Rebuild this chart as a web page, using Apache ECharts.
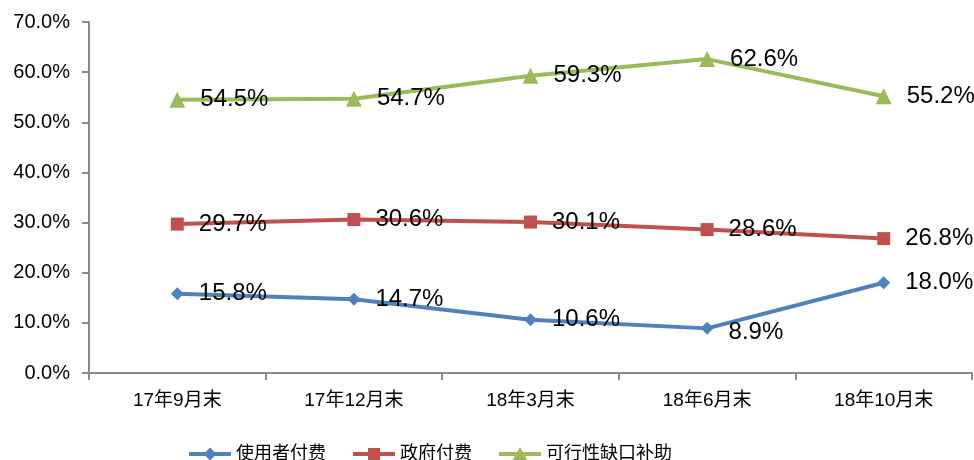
<!DOCTYPE html>
<html>
<head>
<meta charset="utf-8">
<style>
  html, body { margin: 0; padding: 0; background: #ffffff; }
  #chart { width: 974px; height: 460px; }
</style>
<script src="https://cdn.jsdelivr.net/npm/echarts@6/dist/echarts.min.js"></script>
</head>
<body>
<div id="chart"></div>
<script>
// Period-end categories
const periods = ['17年9月末', '17年12月末', '18年3月末', '18年6月末', '18年10月末'];

// Share of projects by payment mechanism (%)
const userPays = [15.8, 14.7, 10.6, 8.9, 18.0];
const governmentPays = [29.7, 30.6, 30.1, 28.6, 26.8];
const viabilityGap = [54.5, 54.7, 59.3, 62.6, 55.2];

// Series names
const seriesNames = ['使用者付费', '政府付费', '可行性缺口补助'];

const numFont = '"Liberation Sans", Arial, sans-serif';
const cjkFont = '"Liberation Sans", "Noto Sans CJK SC", sans-serif';
const axisGray = '#8c8c8c';
const colors = ['#4F81BD', '#C0504D', '#9BBB59'];

// Legend icons: a thick line segment with the series marker in the middle
const bar = 'M0,5 L42,5 L42,9 L0,9 Z ';
const legendIcons = [
  'path://' + bar + 'M21,0.5 L27.5,7 L21,13.5 L14.5,7 Z M0,0 L0,0 M42,14 L42,14',
  'path://' + bar + 'M15,1 L27,1 L27,13 L15,13 Z M0,0 L0,0 M42,14 L42,14',
  'path://' + bar + 'M21,0 L29,14 L13,14 Z M0,0 L0,0'
];

const chart = echarts.init(document.getElementById('chart'), null, { renderer: 'canvas' });

function lineSeries(name, data, color, symbol, symbolSize) {
  return {
    name: name,
    type: 'line',
    data: data,
    symbol: symbol,
    symbolSize: symbolSize,
    showAllSymbol: true,
    lineStyle: { color: color, width: 4 },
    itemStyle: { color: color },
    label: {
      show: true,
      position: 'right',
      distance: 15,
      color: '#000000',
      fontFamily: numFont,
      fontSize: 24,
      formatter: p => p.value.toFixed(1) + '%'
    },
    emphasis: { disabled: true },
    animation: false
  };
}

const s1 = lineSeries(seriesNames[0], userPays, colors[0], 'diamond', 13);
// the 8.9% label sits a little under its point
s1.data = userPays.map((v, i) => i === 3 ? { value: v, label: { offset: [0, 4] } } : v);

chart.setOption({
  backgroundColor: '#ffffff',
  animation: false,
  grid: { left: 89, right: 2, top: 22, bottom: 87, containLabel: false },
  legend: {
    left: 184,
    top: 440,
    itemWidth: 42,
    itemHeight: 14,
    itemGap: 27,
    textStyle: { fontFamily: cjkFont, fontSize: 18, color: '#000000' },
    data: seriesNames.map((n, i) => ({
      name: n,
      icon: legendIcons[i],
      itemStyle: { color: colors[i] }
    }))
  },
  xAxis: {
    type: 'category',
    data: periods,
    boundaryGap: true,
    axisLine: { lineStyle: { color: axisGray, width: 2 } },
    axisTick: { show: true, length: 7, inside: false, lineStyle: { color: axisGray, width: 2 } },
    axisLabel: { margin: 18, color: '#000000', fontFamily: cjkFont, fontSize: 19 },
    splitLine: { show: false }
  },
  yAxis: {
    type: 'value',
    min: 0,
    max: 70,
    interval: 10,
    axisLine: { show: true, lineStyle: { color: axisGray, width: 2 } },
    axisTick: { show: true, length: 7, lineStyle: { color: axisGray, width: 2 } },
    axisLabel: {
      margin: 19,
      color: '#000000',
      fontFamily: numFont,
      fontSize: 20,
      formatter: v => v.toFixed(1) + '%'
    },
    splitLine: { show: false }
  },
  series: [
    s1,
    lineSeries(seriesNames[1], governmentPays, colors[1], 'rect', 13),
    lineSeries(seriesNames[2], viabilityGap, colors[2], 'triangle', 16)
  ]
});
</script>
</body>
</html>
